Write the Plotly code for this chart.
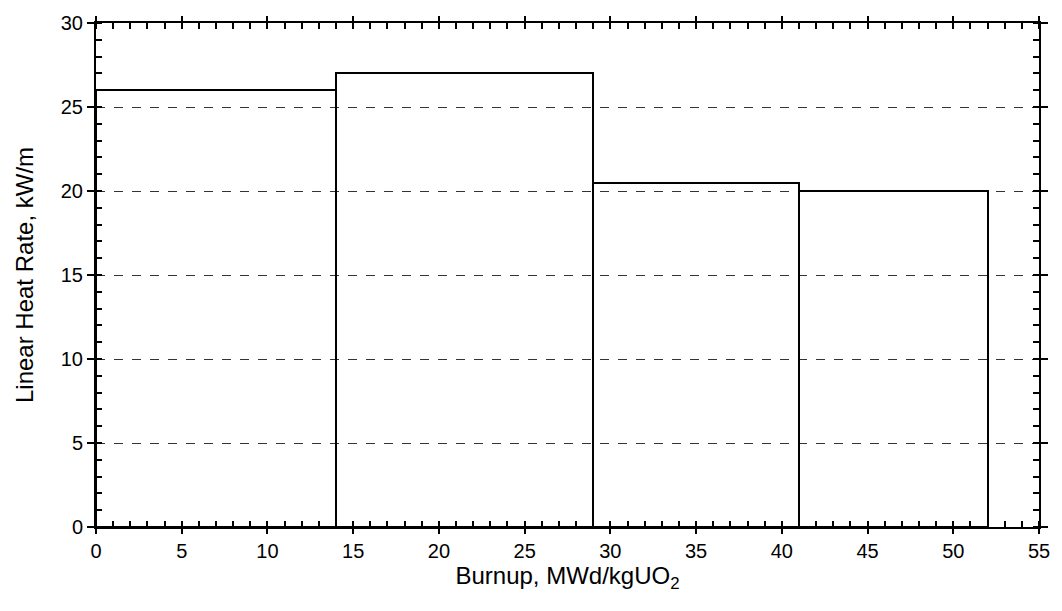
import plotly.graph_objects as go

# Data
burnup_edges = [0, 14, 29, 41, 52]
heat_rate = [26, 27, 20.5, 20]
x_ticks = [0, 5, 10, 15, 20, 25, 30, 35, 40, 45, 50, 55]
y_ticks = [0, 5, 10, 15, 20, 25, 30]

centers = [(a + b) / 2 for a, b in zip(burnup_edges[:-1], burnup_edges[1:])]
widths = [b - a for a, b in zip(burnup_edges[:-1], burnup_edges[1:])]

font_family = "Liberation Sans, Arial, sans-serif"

fig = go.Figure()
fig.add_trace(go.Bar(
    x=centers, y=heat_rate, width=widths,
    marker=dict(color="rgba(0,0,0,0)", line=dict(color="black", width=2)),
    showlegend=False, xaxis="x", yaxis="y",
))
# invisible trace for overlay axes
fig.add_trace(go.Scatter(x=[0], y=[0], mode="markers", marker=dict(opacity=0),
                         showlegend=False, hoverinfo="skip", xaxis="x2", yaxis="y2"))

common_x = dict(range=[0, 55], tickvals=x_ticks, showline=True, linecolor="black",
                linewidth=2, zeroline=False, showgrid=False)
common_y = dict(range=[0, 30], tickvals=y_ticks, showline=True, linecolor="black",
                linewidth=2, zeroline=False)

fig.update_layout(
    width=1062, height=611,
    margin=dict(l=96, r=21, t=17, b=84),
    paper_bgcolor="white", plot_bgcolor="white",
    font=dict(family=font_family, color="black", size=20),
    xaxis=dict(**common_x, ticks="outside", ticklen=5, tickwidth=2, tickcolor="black",
               mirror="allticks",
               minor=dict(ticks="inside", dtick=1, ticklen=6, tickwidth=1.5, tickcolor="black"),
               tickfont=dict(size=20),
               title=dict(text="Burnup, MWd/kgUO<sub>2</sub>", font=dict(size=24), standoff=3)),
    yaxis=dict(**common_y, ticks="outside", ticklen=7, tickwidth=2, tickcolor="black",
               mirror="allticks",
               showgrid=True, gridcolor="#333", griddash="dash", gridwidth=1,
               minor=dict(ticks="inside", dtick=1, ticklen=6, tickwidth=1.5, tickcolor="black"),
               tickfont=dict(size=20),
               title=dict(text="Linear Heat Rate, kW/m", font=dict(size=24), standoff=20)),
    xaxis2=dict(**common_x, overlaying="x", ticks="inside", ticklen=6, tickwidth=2,
                tickcolor="black", mirror="allticks", showticklabels=False),
    yaxis2=dict(**common_y, overlaying="y", ticks="inside", ticklen=6, tickwidth=2,
                tickcolor="black", mirror="allticks", showticklabels=False, showgrid=False),
    bargap=0,
)

fig.write_html("out.html")
